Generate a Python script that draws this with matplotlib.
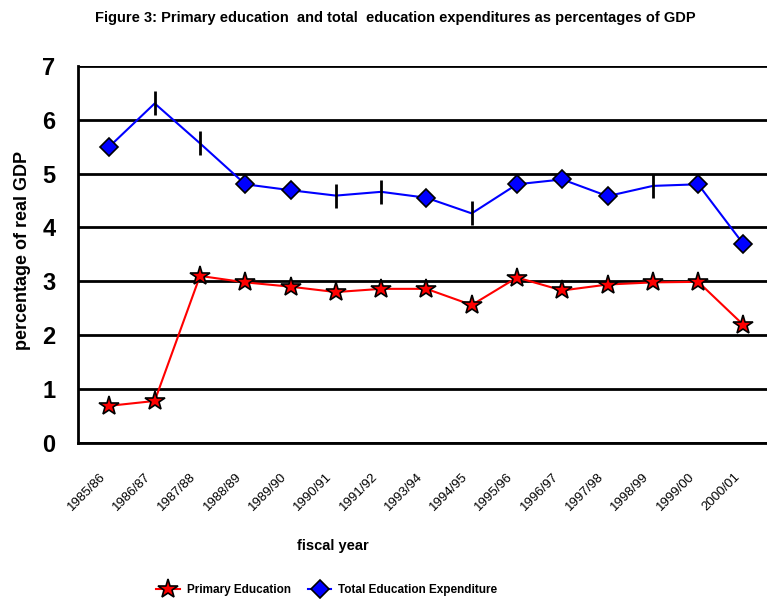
import matplotlib.pyplot as plt
from matplotlib.transforms import ScaledTranslation

plt.rcParams['font.family'] = ['Liberation Sans', 'DejaVu Sans']

# fiscal years and shares of real GDP (%)
years = ['1985/86', '1986/87', '1987/88', '1988/89', '1989/90', '1990/91', '1991/92',
         '1993/94', '1994/95', '1995/96', '1996/97', '1997/98', '1998/99', '1999/00', '2000/01']
primary = [0.69, 0.78, 3.10, 2.98, 2.90, 2.80, 2.86, 2.86, 2.56, 3.07, 2.83, 2.94, 2.98, 2.99, 2.19]
total = [5.50, 6.30, 5.56, 4.80, 4.69, 4.59, 4.66, 4.55, 4.26, 4.80, 4.89, 4.58, 4.77, 4.80, 3.69]
# points of the total series drawn with a diamond; the rest get a plain tick
diamond_idx = [0, 3, 4, 7, 9, 10, 11, 13, 14]

fig = plt.figure(figsize=(7.67, 5.99), dpi=100)
ax = fig.add_axes([77.7 / 767, 1 - 443 / 599, 1 - 77.7 / 767, (443 - 65.7) / 599])

x = list(range(len(years)))

ax.plot(x, primary, color='red', lw=1.5, marker='*', markersize=15,
        markerfacecolor='red', markeredgecolor='black', markeredgewidth=1.2, zorder=4,
        label='Primary Education')
ax.plot(x, total, color='blue', lw=1.5, marker='D', markersize=9,
        markerfacecolor='blue', markeredgecolor='black', markeredgewidth=1.2,
        markevery=diamond_idx, zorder=4, label='Total Education Expenditure')
tick_idx = [i for i in x if i not in diamond_idx]
ax.plot([x[i] for i in tick_idx], [total[i] for i in tick_idx], ls='none',
        marker='|', markersize=17, markeredgewidth=2, color='black', zorder=5)

ax.set_xlim(-0.70, 14.52)
ax.set_ylim(0, 7)
ax.set_yticks(range(8))
ax.set_yticklabels([str(v) for v in range(8)], fontsize=17, fontweight='bold')
ax.set_xticks(x)
ax.set_xticklabels([])
ax.tick_params(axis='both', length=0)
ax.tick_params(axis='y', pad=16)

# slanted year labels, hung just left of each point below the axis
shift = ScaledTranslation(-10 / 100, -28 / 100, fig.dpi_scale_trans)
for xi, yr in zip(x, years):
    ax.text(xi, 0, yr, transform=ax.get_xaxis_transform() + shift, rotation=45,
            ha='right', va='top', rotation_mode='anchor', fontsize=9.5)

ax.grid(axis='y', color='black', lw=2)
ax.set_axisbelow(True)
for side in ['top', 'right']:
    ax.spines[side].set_visible(False)
for side in ['left', 'bottom']:
    ax.spines[side].set_linewidth(2)

fig.text(23 / 767, 1 - 250 / 599, 'percentage of real GDP', rotation=90,
         ha='center', va='center', fontsize=13, fontweight='bold')

fig.text(395 / 767, 1 - 18 / 599,
         'Figure 3: Primary education  and total  education expenditures as percentages of GDP',
         ha='center', va='center', fontsize=10.5, fontweight='bold')
fig.text(333 / 767, 1 - 546 / 599, 'fiscal year', ha='center', va='center',
         fontsize=10.5, fontweight='bold')

handles, labels = ax.get_legend_handles_labels()
fig.legend(handles, labels, loc='center', bbox_to_anchor=(327 / 767, 1 - 590 / 599),
           ncol=2, frameon=False, prop={'size': 8.5, 'weight': 'bold'},
           handlelength=2.0, columnspacing=1.4, handletextpad=0.6)

fig.savefig('out.png', dpi=100)
